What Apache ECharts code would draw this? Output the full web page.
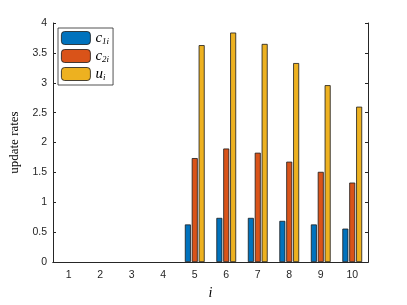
<!DOCTYPE html>
<html><head><meta charset="utf-8">
<script src="https://cdn.jsdelivr.net/npm/echarts@6/dist/echarts.min.js"></script>
<style>html,body{margin:0;padding:0;background:#fff}#c{width:407px;height:305px}</style>
</head><body><div id="c"></div>
<script>
var categories = ['1','2','3','4','5','6','7','8','9','10'];
var c1 = [0,0,0,0,0.63,0.74,0.74,0.69,0.63,0.56];
var c2 = [0,0,0,0,1.74,1.90,1.83,1.68,1.51,1.33];
var u  = [0,0,0,0,3.63,3.84,3.65,3.33,2.96,2.60];
var yTicks = [0,0.5,1,1.5,2,2.5,3,3.5,4];
var names = ['c1','c2','u'];
var subs = {c1:['c','1i'], c2:['c','2i'], u:['u','i']};
var colors = ['#0072BD','#D95319','#EDB120'];
var axisCol = '#262626';
var chart = echarts.init(document.getElementById('c'));
function mk(name, data, i){
  return {name:name, type:'bar',
    data:data.map(function(v){ return v === 0 ? '-' : v; }),
    xAxisIndex:0, yAxisIndex:0,
    barWidth:6, barGap:'15%',
    itemStyle:{color:colors[i], borderColor:'#1a1a1a', borderWidth:0.8}};
}
chart.setOption({
  animation:false,
  grid:{left:53, top:23, right:39, bottom:37, containLabel:false},
  legend:{
    orient:'vertical', left:58, top:28, itemWidth:29, itemHeight:13, itemGap:3,
    padding:[3,4,3,3], borderColor:'#262626', borderWidth:0.8, backgroundColor:'#fff',
    data:names,
    formatter:function(n){ var s=subs[n]; return '{m|'+s[0]+'}{s|'+s[1]+'}'; },
    textStyle:{rich:{
      m:{fontFamily:'Liberation Serif', fontStyle:'italic', fontSize:15, color:'#000', verticalAlign:'bottom', lineHeight:16},
      s:{fontFamily:'Liberation Serif', fontStyle:'italic', fontSize:9, color:'#000', verticalAlign:'bottom', lineHeight:12, padding:[4,0,0,0]}
    }},
    itemStyle:{borderColor:'#1a1a1a', borderWidth:0.8}
  },
  xAxis:[{
    type:'category', data:categories, position:'bottom',
    name:'i', nameLocation:'middle', nameGap:20,
    nameTextStyle:{fontFamily:'Liberation Serif', fontStyle:'italic', fontSize:14, color:'#000'},
    axisLine:{lineStyle:{color:axisCol, width:1}},
    axisTick:{inside:true, length:3, alignWithLabel:true, lineStyle:{color:axisCol}},
    axisLabel:{color:axisCol, fontSize:10.5, fontFamily:'Liberation Sans', margin:8}
  },{
    type:'category', data:categories, position:'top',
    axisLine:{lineStyle:{color:axisCol, width:1}},
    axisTick:{inside:true, length:3, alignWithLabel:true, lineStyle:{color:axisCol}},
    axisLabel:{show:false}
  }],
  yAxis:[{
    type:'value', min:0, max:4, interval:0.5, position:'left',
    name:'update rates', nameLocation:'middle', nameGap:25, nameRotate:90,
    nameTextStyle:{fontFamily:'Liberation Serif', fontSize:13, color:'#000'},
    axisLine:{show:true, lineStyle:{color:axisCol, width:1}},
    axisTick:{show:true, inside:true, length:3, lineStyle:{color:axisCol}},
    splitLine:{show:false},
    axisLabel:{color:axisCol, fontSize:10.5, fontFamily:'Liberation Sans', margin:6,
      formatter:function(v){ return yTicks.indexOf(v)>=0 ? String(v) : ''; }}
  },{
    type:'value', min:0, max:4, interval:0.5, position:'right',
    axisLine:{show:true, lineStyle:{color:axisCol, width:1}},
    axisTick:{show:true, inside:true, length:3, lineStyle:{color:axisCol}},
    splitLine:{show:false}, axisLabel:{show:false}
  }],
  series:[mk('c1',c1,0), mk('c2',c2,1), mk('u',u,2)]
});
</script></body></html>
